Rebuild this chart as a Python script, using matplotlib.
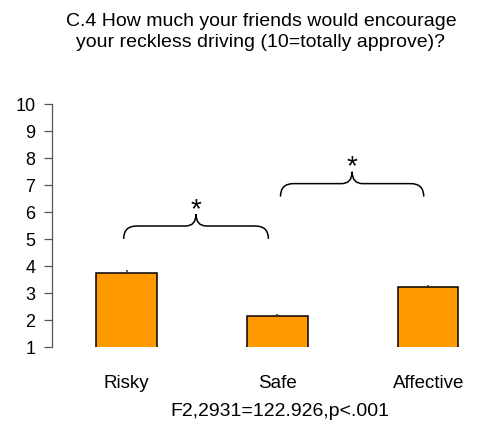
import matplotlib.pyplot as plt
from matplotlib.path import Path
from matplotlib.patches import PathPatch
import numpy as np

'''datos de la grafica'''
grupos = ['Risky', 'Safe', 'Affective']
medias = [3.73, 2.14, 3.22]
errores = [0.10, 0.06, 0.06]
yticks = list(range(1, 11))

titulo = 'C.4 How much your friends would encourage\nyour reckless driving (10=totally approve)?'
estadistico = 'F2,2931=122.926,p<.001'

'''comparaciones significativas: (grupo inicial, grupo final, altura de la llave)'''
comparaciones = [(0, 1, 4.99), (1, 2, 6.56)]

plt.rcParams['font.family'] = ['Liberation Sans', 'DejaVu Sans']

fig = plt.figure(figsize=(4.8, 4.35), dpi=100)
ax = fig.add_axes([52 / 480, 87.3 / 435, 428 / 480, 243 / 435])

x = np.arange(len(grupos))
ax.bar(x, medias, width=0.4, bottom=0, color='#FF9900', edgecolor='black',
       linewidth=1.1, zorder=2)
ax.errorbar(x, medias, yerr=[np.zeros(3), errores], fmt='none', ecolor='#333333',
            elinewidth=1.1, capsize=0, zorder=3)

ax.set_ylim(1, 10)
ax.set_xlim(-0.495, 2.343)
ax.set_yticks(yticks)
ax.set_yticklabels([str(t) for t in yticks], fontsize=13)
ax.tick_params(axis='y', length=6, width=0.9, color='#555555', pad=6)
ax.set_xticks(x)
ax.set_xticklabels(grupos, fontsize=13.5)
ax.tick_params(axis='x', length=0, pad=20)
for lado in ['top', 'right', 'bottom']:
    ax.spines[lado].set_visible(False)
ax.spines['left'].set_color('#555555')
ax.spines['left'].set_linewidth(0.9)


def llave(ax, x0, x1, y):
    '''dibuja una llave horizontal con la punta hacia arriba'''
    rx, ry = 0.086, 0.48
    rx2, ry2 = 0.07, 0.44
    xm = (x0 + x1) / 2
    yh = y + ry
    yp = yh + ry2
    verts = [(x0, y), (x0, yh), (x0 + rx, yh),
             (xm - rx2, yh), (xm, yh), (xm, yp),
             (xm, yh), (xm + rx2, yh),
             (x1 - rx, yh), (x1, yh), (x1, y)]
    codes = [Path.MOVETO, Path.CURVE3, Path.CURVE3,
             Path.LINETO, Path.CURVE3, Path.CURVE3,
             Path.CURVE3, Path.CURVE3,
             Path.LINETO, Path.CURVE3, Path.CURVE3]
    ax.add_patch(PathPatch(Path(verts, codes), fill=False, lw=1.1,
                           edgecolor='black', zorder=3))
    '''el asterisco de Liberation queda alto dentro de su caja'''
    ax.text(xm, yp + 0.2, '*', ha='center', va='center', fontsize=20)


'''pequeños ajustes para que la llave no toque el centro de las barras'''
margenes = [(-0.02, -0.06), (0.02, -0.03)]
for (a, b, y), (m0, m1) in zip(comparaciones, margenes):
    llave(ax, a + m0, b + m1, y)

fig.text(261 / 480, 1 - 32 / 435, titulo, ha='center', va='center',
         fontsize=14, linespacing=1.3)
fig.text(280 / 480, 1 - 412 / 435, estadistico, ha='center', va='center',
         fontsize=14)

plt.savefig('out.png', dpi=100)
